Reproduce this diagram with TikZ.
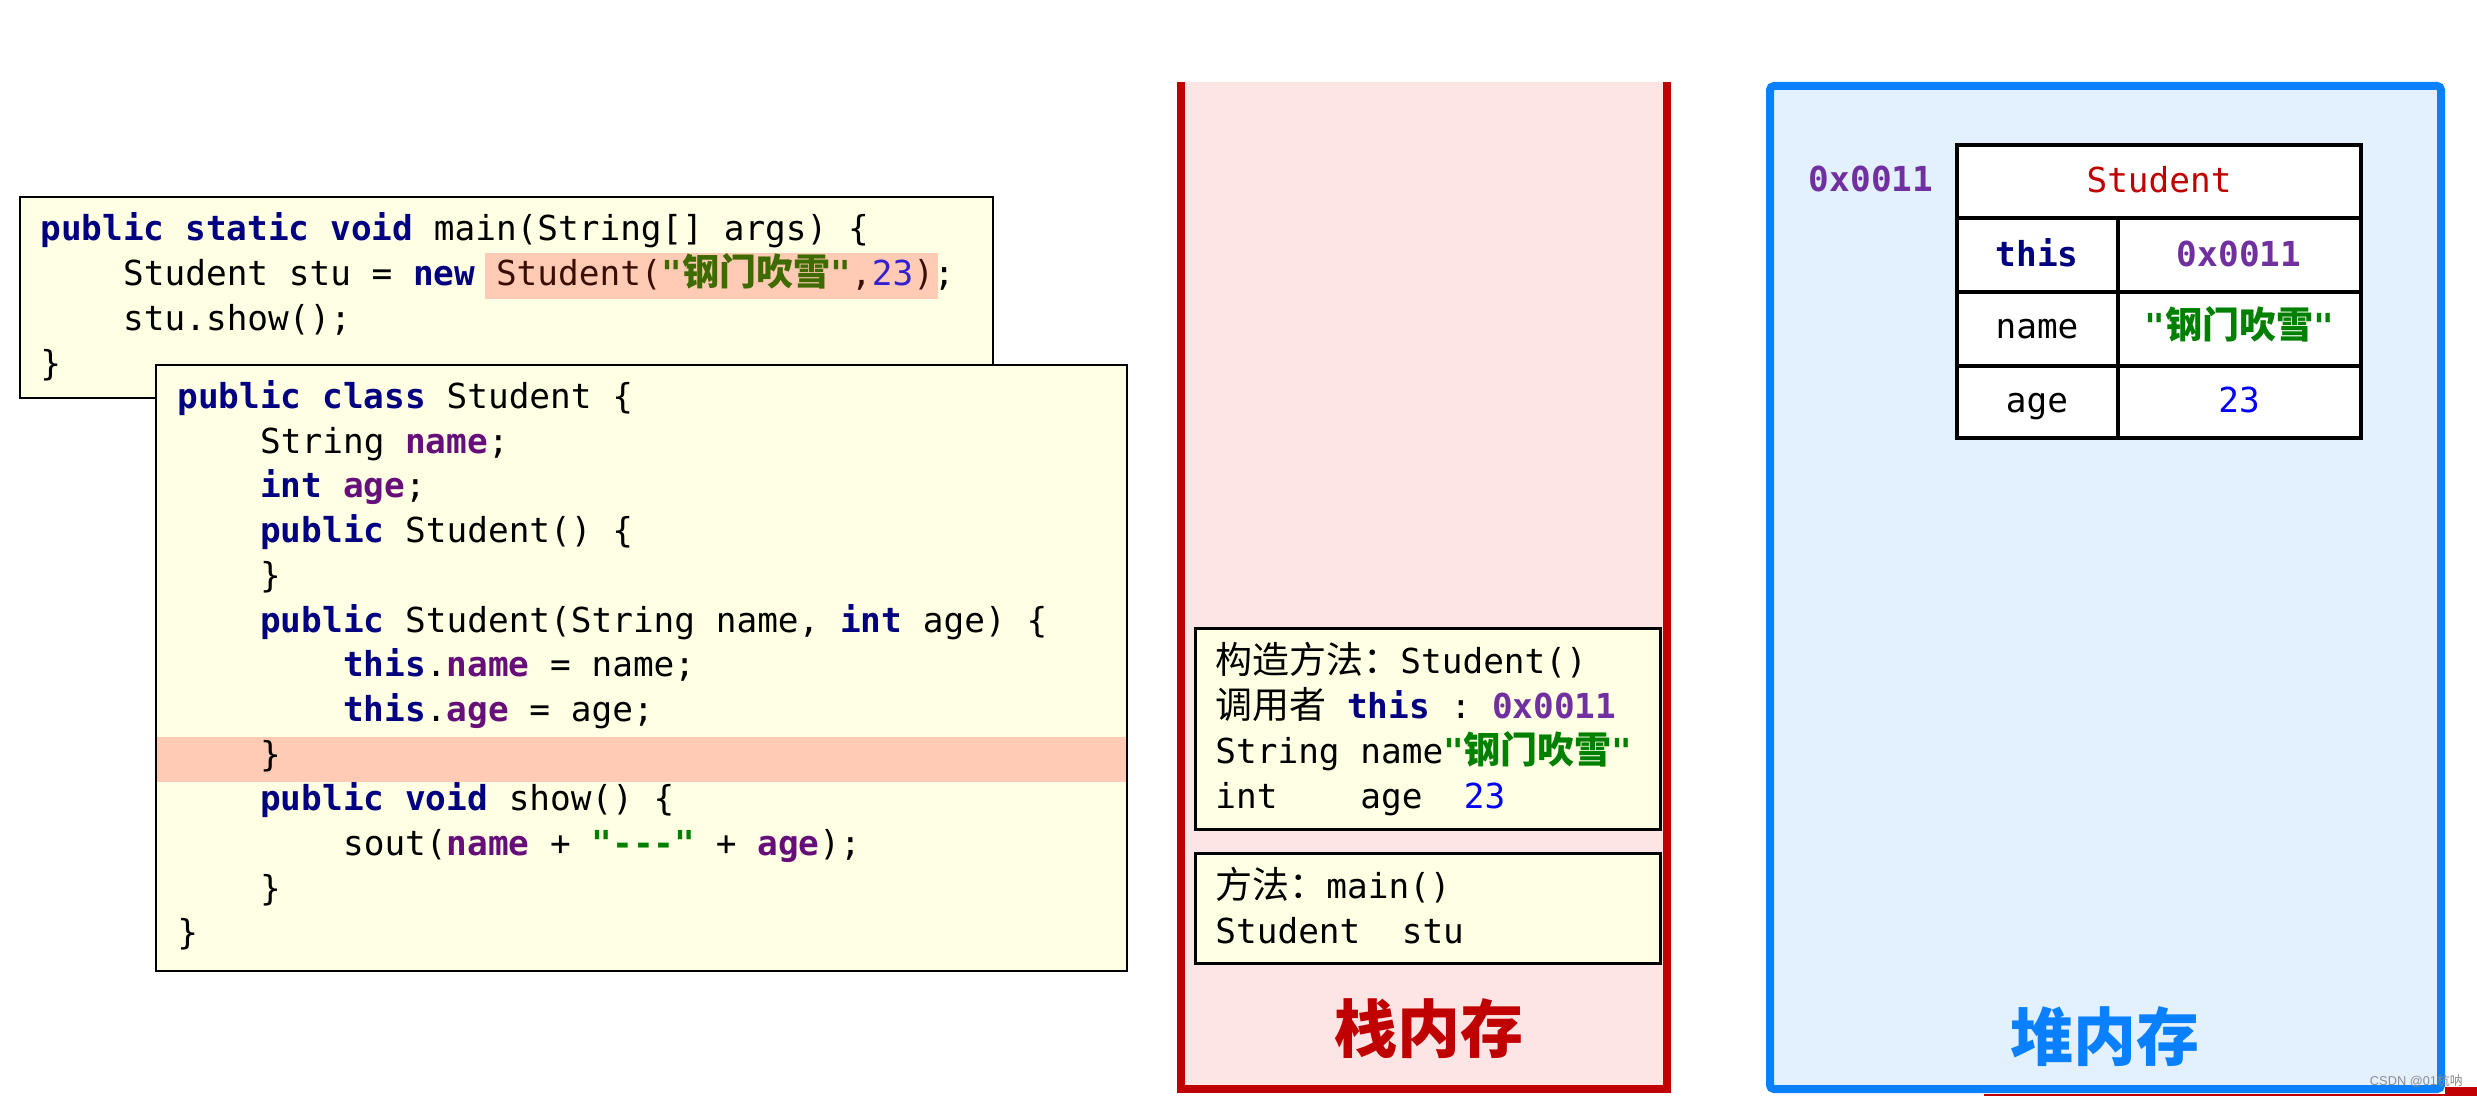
\documentclass[tikz,border=0pt]{standalone}
\usepackage{fontspec}
\setmainfont{Liberation Sans}
\setmonofont{DejaVu Sans Mono}
\newfontfamily\cjk{Noto Sans CJK SC}
\definecolor{kwc}{HTML}{000080}
\definecolor{fdc}{HTML}{660E7A}
\definecolor{strc}{HTML}{008000}
\definecolor{numc}{HTML}{0000FF}
\definecolor{addrc}{HTML}{7030A0}
\definecolor{redc}{HTML}{C00000}
\definecolor{bluec}{HTML}{0A80FF}
\definecolor{codebg}{HTML}{FFFFE3}
\definecolor{hlc}{HTML}{FFCBB4}
\definecolor{stackbg}{HTML}{FDE4E5}
\definecolor{heapbg}{HTML}{E3F1FE}
\newcommand\codefont{\ttfamily\fontsize{17.2}{20}\selectfont}
\newcommand\cj[1]{{\cjk\fontsize{18.5}{20}\selectfont #1}}
\newcommand\kw[1]{\textcolor{kwc}{\bfseries #1}}
\newcommand\fd[1]{\textcolor{fdc}{\bfseries #1}}
\newcommand\strg[1]{\textcolor{strc}{\bfseries #1}}
\newcommand\nm[1]{\textcolor{numc}{#1}}
\newcommand\addr[1]{\textcolor{addrc}{\bfseries #1}}
\tikzset{
  codeline/.style={anchor=base west, inner sep=0pt, font=\codefont},
  cell/.style={anchor=base, inner sep=0pt, font=\codefont},
  codebox/.style={draw=black, line width=1.3pt, fill=codebg},
  framebox/.style={draw=black, line width=1.5pt, fill=codebg},
  bigcjk/.style={anchor=base, inner sep=0pt, font={\cjk\bfseries\fontsize{31.5}{32}\selectfont}},
}
\begin{document}
\begin{tikzpicture}[x=0.5pt,y=-0.5pt]
\useasboundingbox (0,0) rectangle (2477,1096);
\fill[white] (0,0) rectangle (2477,1096);

% ---------- main method box ----------
\draw[codebox] (20,197) rectangle (993,398);
\fill[hlc] (485,253) rectangle (938,299);
\node[codeline] (m1) at (40,241) {\kw{public static void} main(String[] args) \{};
\node[codeline] (m2) at (40,286) {~~~~Student stu = \kw{new} \textcolor[HTML]{3A0E05}{Student(}\textcolor[HTML]{3E6B00}{\bfseries "\cj{钢门吹雪}"}\textcolor[HTML]{3A0E05}{,}\textcolor[HTML]{3320D0}{23}\textcolor[HTML]{3A0E05}{)};};
\node[codeline] (m3) at (40,331) {~~~~stu.show();};
\node[codeline] (m4) at (40,376) {\}};

% ---------- Student class box ----------
\fill[codebg] (156,365) rectangle (1127,971);
\fill[hlc] (156,737) rectangle (1127,782);
\draw[line width=1.3pt] (156,365) rectangle (1127,971);
\node[codeline] (c1) at (177,408.5) {\kw{public class} Student \{};
\node[codeline] (c2) at (177,453.2) {~~~~String \fd{name};};
\node[codeline] (c3) at (177,497.9) {~~~~\kw{int} \fd{age};};
\node[codeline] (c4) at (177,542.6) {~~~~\kw{public} Student() \{};
\node[codeline] (c5) at (177,587.3) {~~~~\}};
\node[codeline] (c6) at (177,632.0) {~~~~\kw{public} Student(String name, \kw{int} age) \{};
\node[codeline] (c7) at (177,676.7) {~~~~~~~~\kw{this}.\fd{name} = name;};
\node[codeline] (c8) at (177,721.4) {~~~~~~~~\kw{this}.\fd{age} = age;};
\node[codeline] (c9) at (177,766.1) {~~~~\}};
\node[codeline] (c10) at (177,810.8) {~~~~\kw{public void} show() \{};
\node[codeline] (c11) at (177,855.5) {~~~~~~~~sout(\fd{name} + \strg{"-{}-{}-"} + \fd{age});};
\node[codeline] (c12) at (177,900.2) {~~~~\}};
\node[codeline] (c13) at (177,944.9) {\}};

% ---------- stack ----------
\fill[stackbg] (1181,82) rectangle (1667,1089);
\draw[redc, line width=4pt] (1181,82) -- (1181,1089) -- (1667,1089) -- (1667,82);
\draw[framebox] (1195,628) rectangle (1660,829);
\node[codeline] (s1) at (1215,673) {\cj{构造方法：}Student()};
\node[codeline] (s2) at (1215,718) {\cj{调用者} \kw{this} : \addr{0x0011}};
\node[codeline] (s3) at (1215,763) {String name\strg{"\cj{钢门吹雪}"}};
\node[codeline] (s4) at (1215,808) {int~~~~age~~\nm{23}};
\draw[framebox] (1195,853) rectangle (1660,963);
\node[codeline] (s5) at (1215,898) {\cj{方法：}main()};
\node[codeline] (s6) at (1215,943) {Student~~stu};
\node[bigcjk, text=redc] (stack) at (1429,1052) {栈内存};

% ---------- heap ----------
\draw[bluec, fill=heapbg, line width=4pt, rounded corners=2pt] (1770,86) rectangle (2441,1089);
\node[cell] (haddr) at (1871,192) {\addr{0x0011}};
\draw[fill=white, line width=2pt] (1957,145) rectangle (2361,438);
\draw[line width=2pt] (1957,218) -- (2361,218);
\draw[line width=2pt] (1957,292) -- (2361,292);
\draw[line width=2pt] (1957,366) -- (2361,366);
\draw[line width=2pt] (2118,218) -- (2118,438);
\node[cell, text=redc] (tcls) at (2159,193) {Student};
\node[cell] (tthis) at (2037,267) {\kw{this}};
\node[cell] (tthisv) at (2239,267) {\addr{0x0011}};
\node[cell] (tname) at (2037,339) {name};
\node[cell] (tnamev) at (2239,339) {\strg{"\cj{钢门吹雪}"}};
\node[cell] (tage) at (2037,413) {age};
\node[cell] (tagev) at (2239,413) {\nm{23}};
\node[bigcjk, text=bluec] (heap) at (2105,1060) {堆内存};

% ---------- edge remnants and watermark ----------
\fill[redc] (1984,1094) rectangle (2477,1096);
\fill[redc] (2445,1087) rectangle (2477,1096);
\node[anchor=base east, inner sep=0pt, text=black!45, font={\fontsize{6.4}{7}\selectfont}] (wm) at (2463,1085) {CSDN @01{\cjk 杭呐}};
\end{tikzpicture}
\end{document}
